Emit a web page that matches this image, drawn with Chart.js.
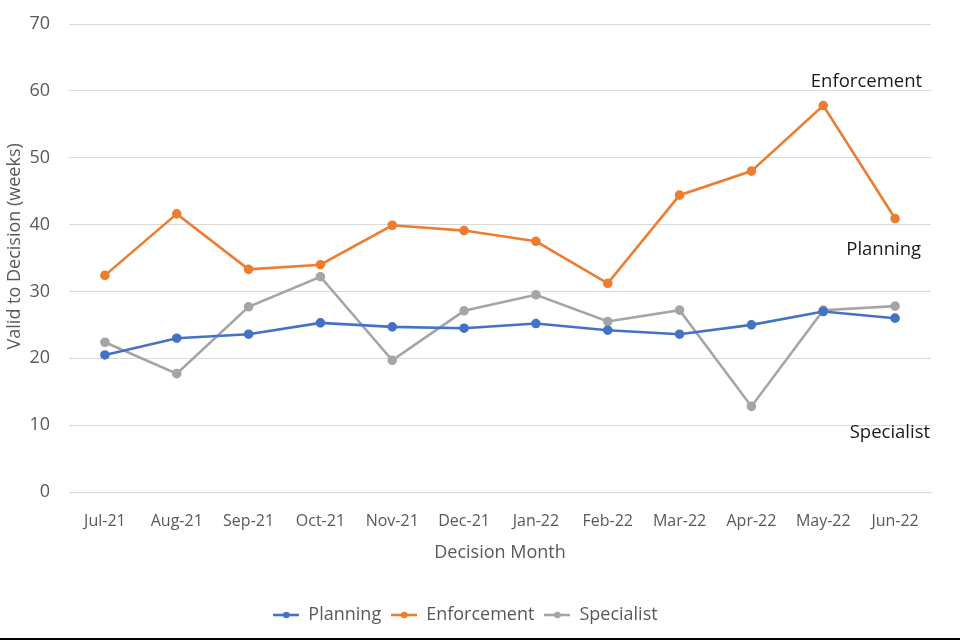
<!DOCTYPE html>
<html>
<head>
    <title>Valid to Decision (weeks)</title>
    <script src="https://cdn.jsdelivr.net/npm/chart.js"></script>
    <style>
        body {
            margin: 0;
            background: white;
            font-family: 'Open Sans', sans-serif;
        }
        .chart-container {
            width: 960px;
            height: 638px;
            position: relative;
        }
        .bottom-rule {
            width: 960px;
            height: 2px;
            background: black;
        }
    </style>
</head>
<body>
    <div class="chart-container">
        <canvas id="lineChart"></canvas>
    </div>
    <div class="bottom-rule"></div>

    <script>
        const months = ['Jul-21', 'Aug-21', 'Sep-21', 'Oct-21', 'Nov-21', 'Dec-21',
                        'Jan-22', 'Feb-22', 'Mar-22', 'Apr-22', 'May-22', 'Jun-22'];
        const planning    = [20.5, 23.0, 23.6, 25.3, 24.7, 24.5, 25.2, 24.2, 23.6, 25.0, 27.0, 26.0];
        const enforcement = [32.4, 41.6, 33.3, 34.0, 39.9, 39.1, 37.5, 31.2, 44.4, 48.0, 57.8, 40.9];
        const specialist  = [22.4, 17.7, 27.7, 32.2, 19.7, 27.1, 29.5, 25.5, 27.2, 12.8, 27.2, 27.8];
        const yTicks = [0, 10, 20, 30, 40, 50, 60, 70];

        // end-of-line text labels, as they stand in the original
        const endLabels = ['Enforcement', 'Planning', 'Specialist'];
        const endLabelY = [61.3, 36.3, 8.8];
        const endLabelDx = [27, 26, 35];

        const grey = '#595959';

        // legend marker: short line with a dot, like Excel
        function legendMarker(color) {
            const c = document.createElement('canvas');
            c.width = 26;
            c.height = 8;
            const g = c.getContext('2d');
            g.strokeStyle = color;
            g.lineWidth = 2.6;
            g.beginPath();
            g.moveTo(0, 4);
            g.lineTo(26, 4);
            g.stroke();
            g.fillStyle = color;
            g.beginPath();
            g.arc(13, 4, 3.3, 0, Math.PI * 2);
            g.fill();
            return c;
        }

        const endLabelPlugin = {
            id: 'endLabels',
            afterDatasetsDraw(chart) {
                const { ctx, scales: { x, y } } = chart;
                const lastX = x.getPixelForValue(months.length - 1);
                ctx.save();
                ctx.font = '18.5px "Open Sans"';
                ctx.fillStyle = '#1a1a1a';
                ctx.textAlign = 'right';
                ctx.textBaseline = 'middle';
                endLabels.forEach((txt, i) => {
                    ctx.fillText(txt, lastX + endLabelDx[i], y.getPixelForValue(endLabelY[i]));
                });
                ctx.restore();
            }
        };

        const makeSet = (label, data, color) => ({
            label: label,
            data: data,
            borderColor: color,
            backgroundColor: color,
            pointBackgroundColor: color,
            pointBorderColor: color,
            pointRadius: 3.5,
            borderWidth: 2.6,
            tension: 0
        });

        const ctx = document.getElementById('lineChart').getContext('2d');
        new Chart(ctx, {
            type: 'line',
            data: {
                labels: months,
                datasets: [
                    makeSet('Planning', planning, '#4472C4'),
                    makeSet('Enforcement', enforcement, '#ED7D31'),
                    makeSet('Specialist', specialist, '#A5A5A5')
                ]
            },
            options: {
                responsive: true,
                maintainAspectRatio: false,
                animation: false,
                layout: { padding: { top: 24, right: 29, bottom: 4, left: 0 } },
                plugins: {
                    legend: {
                        position: 'bottom',
                        labels: {
                            color: grey,
                            font: { family: 'Open Sans', size: 18 },
                            usePointStyle: true,
                            pointStyleWidth: 26,
                            boxHeight: 8,
                            padding: 10,
                            generateLabels(chart) {
                                const items = Chart.defaults.plugins.legend.labels.generateLabels(chart);
                                items.forEach(it => {
                                    it.pointStyle = legendMarker(chart.data.datasets[it.datasetIndex].borderColor);
                                });
                                return items;
                            }
                        }
                    },
                    tooltip: { enabled: false }
                },
                scales: {
                    x: {
                        offset: true,
                        grid: { display: false, drawTicks: false },
                        border: { display: true, color: '#d9d9d9' },
                        ticks: {
                            color: grey,
                            font: { family: 'Open Sans', size: 16 },
                            padding: 20,
                            maxRotation: 0
                        },
                        title: {
                            display: true,
                            text: 'Decision Month',
                            color: grey,
                            font: { family: 'Open Sans', size: 18 },
                            padding: { top: 4, bottom: 32 }
                        },
                        afterFit(scale) { scale.height = 104; }
                    },
                    y: {
                        min: 0,
                        max: 70,
                        afterBuildTicks(scale) {
                            scale.ticks = yTicks.map(v => ({ value: v }));
                        },
                        grid: { color: '#d9d9d9', drawTicks: false, lineWidth: 1 },
                        border: { display: false },
                        ticks: {
                            color: grey,
                            font: { family: 'Open Sans', size: 18 },
                            padding: 19
                        },
                        title: {
                            display: true,
                            text: '     Valid to Decision (weeks)',
                            color: grey,
                            font: { family: 'Open Sans', size: 18 },
                            padding: { top: 4, bottom: 0 }
                        },
                        afterFit(scale) {
                            scale.width = 69;
                            scale.paddingTop = 0;
                            scale.paddingBottom = 0;
                        }
                    }
                }
            },
            plugins: [endLabelPlugin]
        });
    </script>
</body>
</html>
